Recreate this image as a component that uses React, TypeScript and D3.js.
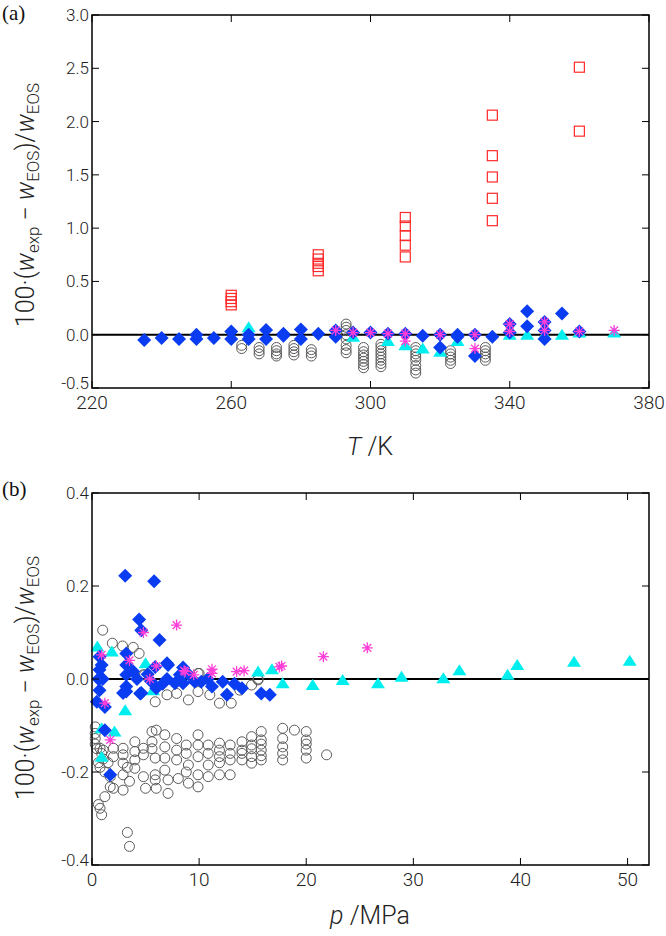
import React from "react";
import * as d3 from "d3";

// panel (a): deviation vs temperature, [T/K, 100*dw/w]
const aSquares: [number, number][] = [
  [260, 0.28], [260, 0.31], [260, 0.34], [260, 0.37],
  [285, 0.6], [285, 0.64], [285, 0.67], [285, 0.71], [285, 0.75],
  [310, 0.73], [310, 0.84], [310, 0.93], [310, 1.02], [310, 1.1],
  [335, 1.07], [335, 1.28], [335, 1.48], [335, 1.68], [335, 2.06],
  [360, 1.91], [360, 2.51],
];
const aCircles: [number, number][] = [
  [263, -0.1], [263, -0.13],
  [268, -0.12], [268, -0.15], [268, -0.18],
  [273, -0.12], [273, -0.15], [273, -0.18], [273, -0.2],
  [278, -0.1], [278, -0.13], [278, -0.16], [278, -0.19],
  [283, -0.14], [283, -0.17], [283, -0.2],
  [293, 0.1], [293, 0.07], [293, 0.04], [293, 0.0], [293, -0.04], [293, -0.1], [293, -0.14], [293, -0.17],
  [298, -0.12], [298, -0.16], [298, -0.19], [298, -0.22], [298, -0.25], [298, -0.28], [298, -0.31],
  [303, -0.09], [303, -0.12], [303, -0.15], [303, -0.18], [303, -0.21], [303, -0.24], [303, -0.27], [303, -0.3],
  [313, -0.12], [313, -0.15], [313, -0.18], [313, -0.21], [313, -0.24], [313, -0.29], [313, -0.33], [313, -0.36],
  [323, -0.15], [323, -0.18], [323, -0.21], [323, -0.24], [323, -0.27],
  [333, -0.12], [333, -0.15], [333, -0.18], [333, -0.21], [333, -0.24],
];
const aTriangles: [number, number][] = [
  [265, 0.07], [295, -0.02], [305, -0.06], [310, -0.1], [315, -0.13], [320, -0.16],
  [325, -0.06], [340, 0.0], [345, 0.0], [350, 0.0], [355, 0.0], [360, 0.02], [370, 0.02],
];
const aDiamonds: [number, number][] = [
  [235, -0.05], [240, -0.03], [245, -0.04], [250, 0.0], [250, -0.04], [255, -0.03],
  [260, 0.03], [260, -0.04], [265, -0.04], [265, 0.0], [270, 0.045], [270, -0.04],
  [275, 0.01], [275, -0.01], [280, 0.05], [280, -0.04], [285, 0.01], [290, 0.04], [290, -0.02],
  [295, 0.02], [300, 0.02], [305, 0.01], [310, 0.01], [315, -0.01], [320, 0.0], [320, -0.12],
  [325, 0.0], [325, -0.02], [330, 0.0], [330, -0.2], [335, -0.02], [340, 0.1], [340, 0.02],
  [345, 0.22], [345, 0.08], [350, 0.12], [350, 0.04], [350, -0.04], [355, 0.2], [360, 0.03],
];
const aStars: [number, number][] = [
  [290, 0.04], [295, 0.02], [300, 0.02], [305, 0.01], [310, 0.01], [310, -0.06], [320, 0.0],
  [330, 0.0], [330, -0.13], [340, 0.1], [340, 0.03], [350, 0.12], [350, 0.04], [360, 0.03], [370, 0.04],
];

// panel (b): deviation vs pressure, [p/MPa, 100*dw/w]
const bCircles: [number, number][] = [
  [4.8, 0.009], [5.9, -0.049], [7.0, -0.034], [7.9, -0.031], [9.0, -0.045], [9.9, -0.027], [11.0, -0.034],
  [11.9, -0.052], [13.0, -0.052], [13.8, -0.024], [14.9, -0.013], [15.5, -0.002], [9.9, 0.012],
  [1.0, 0.105], [1.9, 0.077], [2.85, 0.071], [3.85, 0.068], [4.4, 0.055], [4.9, 0.009], [10.0, 0.012], [15.5, 0.0],
  [0.3, -0.103], [0.3, -0.117], [0.3, -0.128], [0.3, -0.14], [0.45, -0.15], [0.6, -0.27], [0.6, -0.18],
  [0.75, -0.149], [0.75, -0.278], [0.75, -0.19], [0.9, -0.292], [0.9, -0.16], [1.05, -0.153], [1.05, -0.172],
  [1.2, -0.253], [1.2, -0.2], [1.5, -0.18], [1.7, -0.21], [1.7, -0.232],
  [2.0, -0.149], [2.0, -0.167], [2.0, -0.235],
  [2.9, -0.149], [2.9, -0.163], [2.9, -0.181], [2.9, -0.206], [2.9, -0.239],
  [3.3, -0.19], [3.3, -0.33], [3.5, -0.36], [3.5, -0.22],
  [4.0, -0.135], [4.0, -0.156], [4.0, -0.174], [4.0, -0.192],
  [4.8, -0.149], [4.8, -0.163], [4.8, -0.21], [5.0, -0.235],
  [5.6, -0.113], [5.6, -0.135], [5.6, -0.15], [5.9, -0.17], [5.9, -0.206], [5.9, -0.217], [6.0, -0.235], [6.0, -0.11],
  [6.8, -0.12], [6.8, -0.146], [6.8, -0.17], [6.8, -0.196], [7.1, -0.217], [7.1, -0.246],
  [7.9, -0.128], [7.9, -0.153], [7.9, -0.174], [8.05, -0.214],
  [8.8, -0.142], [8.8, -0.16], [8.8, -0.2], [9.0, -0.185], [9.0, -0.224],
  [9.9, -0.12], [9.9, -0.142], [9.9, -0.167], [9.9, -0.206], [9.9, -0.232],
  [10.85, -0.142], [10.85, -0.16], [10.85, -0.185], [10.85, -0.21],
  [11.9, -0.138], [11.9, -0.153], [11.9, -0.167], [11.9, -0.18], [11.9, -0.206],
  [12.9, -0.142], [12.9, -0.16], [12.9, -0.174], [12.9, -0.206],
  [14.0, -0.135], [14.0, -0.153], [14.0, -0.16], [14.0, -0.174],
  [14.9, -0.124], [14.9, -0.142], [14.9, -0.15], [14.9, -0.167], [14.9, -0.181],
  [15.8, -0.113], [15.8, -0.131], [15.8, -0.14], [15.8, -0.153], [15.8, -0.165], [15.8, -0.174],
  [17.8, -0.106], [17.8, -0.128], [17.8, -0.146], [17.8, -0.16], [17.8, -0.174],
  [18.9, -0.11], [20.0, -0.113], [20.0, -0.131], [20.0, -0.14], [20.0, -0.153], [20.0, -0.17], [21.9, -0.163],
];
const bTriangles: [number, number][] = [
  [0.5, 0.07], [1.85, 0.059], [5.0, 0.034], [15.5, 0.016], [16.8, 0.021], [5.7, -0.024], [3.1, -0.067],
  [17.8, -0.009], [20.6, -0.013], [23.4, -0.002], [26.7, -0.009], [28.9, 0.005], [32.8, 0.0015],
  [34.3, 0.019], [38.8, 0.009], [39.7, 0.03], [45.0, 0.037], [50.2, 0.039],
  [0.9, -0.106], [2.1, -0.113], [0.9, -0.167],
];
const bDiamonds: [number, number][] = [
  [3.1, 0.222], [5.8, 0.21], [4.4, 0.128], [4.6, 0.105], [6.3, 0.084], [7.0, 0.034], [8.5, 0.025],
  [0.7, 0.048], [0.7, 0.02], [0.6, 0.0], [0.7, -0.024], [0.45, -0.049], [1.2, -0.06], [0.9, 0.03], [1.0, 0.0],
  [3.2, 0.055], [3.2, 0.03], [3.2, 0.009], [3.2, -0.016], [3.2, -0.027], [3.85, 0.016], [4.5, -0.031],
  [4.2, 0.0], [2.9, -0.03], [5.9, 0.026], [7.1, 0.03], [7.0, 0.0], [7.75, -0.009], [8.2, 0.009], [8.5, -0.009],
  [9.6, -0.006], [10.2, -0.006], [11.2, -0.016], [12.2, -0.006], [12.6, -0.034], [13.3, -0.01],
  [15.8, -0.031], [16.6, -0.034], [6.6, -0.01], [6.0, -0.02], [4.6, -0.03], [5.2, 0.01], [5.5, -0.005],
  [9.0, 0.01], [10.8, 0.0], [14.0, -0.02], [1.2, -0.11], [1.7, -0.206],
];
const bStars: [number, number][] = [
  [17.7, 0.028], [21.6, 0.048], [25.7, 0.067], [7.9, 0.116], [4.8, 0.1], [0.9, 0.052], [3.5, 0.04],
  [6.0, 0.028], [8.6, 0.018], [11.2, 0.021], [13.5, 0.016], [14.2, 0.018], [17.5, 0.026], [5.4, 0.0],
  [8.7, 0.016], [9.5, 0.009], [11.2, 0.012], [1.2, -0.052], [1.7, -0.131],
];

const aXTicks = [220, 260, 300, 340, 380];
const aYTicks = [-0.5, 0, 0.5, 1, 1.5, 2, 2.5, 3];
const bXTicks = [0, 10, 20, 30, 40, 50];
const bYTicks = [-0.4, -0.2, 0, 0.2, 0.4];

const BLUE = "#0a3df2";
const CYAN = "#00eeee";
const MAGENTA = "#ff3fd8";
const GREY = "#5a5a5a";
const RED = "#ff2a2a";
const TICKFONT = "Roboto, 'Liberation Sans', sans-serif";

const diamond = (r: number) => `M0,${-r}L${r},0L0,${r}L${-r},0Z`;
const triangle = "M0,-6L7,5L-7,5Z";
const star = (r: number) => {
  const a = r * Math.SQRT1_2;
  return `M${-r},0H${r}M0,${-r}V${r}M${-a},${-a}L${a},${a}M${-a},${a}L${a},${-a}`;
};

type Pt = [number, number];

function YTitle({ x, y }: { x: number; y: number }) {
  return (
    <text transform={`translate(${x},${y}) rotate(-90)`} textAnchor="middle"
      fontFamily={TICKFONT} fontWeight={300} fontSize={25} fill="#222">
      100·(<tspan fontStyle="italic">w</tspan>
      <tspan fontSize={17} dy={5}>exp</tspan>
      <tspan dy={-5}> − </tspan>
      <tspan fontStyle="italic">w</tspan>
      <tspan fontSize={17} dy={5}>EOS</tspan>
      <tspan dy={-5}>)/</tspan>
      <tspan fontStyle="italic">w</tspan>
      <tspan fontSize={17} dy={5}>EOS</tspan>
    </text>
  );
}

function Panel({
  x, y, xTicks, yTicks, circles, squares, triangles, diamonds, stars,
}: {
  x: d3.ScaleLinear<number, number>;
  y: d3.ScaleLinear<number, number>;
  xTicks: number[]; yTicks: number[];
  circles: Pt[]; squares: Pt[]; triangles: Pt[]; diamonds: Pt[]; stars: Pt[];
}) {
  const [x0, x1] = x.range();
  const [y1, y0] = y.range();
  const tl = 7;
  const fmt = d3.format(".1f");
  return (
    <g>
      <line x1={x0} x2={x1} y1={y(0)} y2={y(0)} stroke="#000" strokeWidth={2} />
      {circles.map((d, i) => (
        <circle key={"c" + i} cx={x(d[0])} cy={y(d[1])} r={5} fill="none" stroke={GREY} strokeWidth={1} />
      ))}
      {squares.map((d, i) => (
        <rect key={"s" + i} x={x(d[0]) - 5} y={y(d[1]) - 5} width={10} height={10} fill="none" stroke={RED} strokeWidth={1.2} />
      ))}
      {triangles.map((d, i) => (
        <path key={"t" + i} d={triangle} transform={`translate(${x(d[0])},${y(d[1])})`} fill={CYAN} />
      ))}
      {diamonds.map((d, i) => (
        <path key={"d" + i} d={diamond(7)} transform={`translate(${x(d[0])},${y(d[1])})`} fill={BLUE} />
      ))}
      {stars.map((d, i) => (
        <g key={"a" + i} transform={`translate(${x(d[0])},${y(d[1])})`}>
          <path d={star(5.5)} stroke={MAGENTA} strokeWidth={1.3} fill="none" />
          <circle r={1.5} fill={MAGENTA} />
        </g>
      ))}
      <rect x={x0} y={y0} width={x1 - x0} height={y1 - y0} fill="none" stroke="#000" strokeWidth={1.5} />
      {xTicks.map((t) => (
        <g key={"xt" + t}>
          <line x1={x(t)} x2={x(t)} y1={y1} y2={y1 - tl} stroke="#000" />
          <line x1={x(t)} x2={x(t)} y1={y0} y2={y0 + tl} stroke="#000" />
          <text x={x(t)} y={y1 + 21} textAnchor="middle" fontFamily={TICKFONT} fontWeight={300} fontSize={19} fill="#222">{t}</text>
        </g>
      ))}
      {yTicks.map((t, i) => (
        <g key={"yt" + t}>
          <line x1={x0} x2={x0 + tl} y1={y(t)} y2={y(t)} stroke="#000" />
          <line x1={x1} x2={x1 - tl} y1={y(t)} y2={y(t)} stroke="#000" />
          <text x={x0 - 3} y={y(t) - (i === 0 ? 5 : 0)} dy="0.35em" textAnchor="end" fontFamily={TICKFONT} fontWeight={300} fontSize={17} fill="#222">{fmt(t).replace("−", "-")}</text>
        </g>
      ))}
    </g>
  );
}

export default function App() {
  const xa = d3.scaleLinear().domain([220, 380]).range([92, 649]);
  const ya = d3.scaleLinear().domain([-0.5, 3]).range([388, 15]);
  const xb = d3.scaleLinear().domain([0, 52]).range([92, 649]);
  const yb = d3.scaleLinear().domain([-0.4, 0.4]).range([865, 493]);
  return (
    <svg width={666} height={936} style={{ position: "absolute", left: 0, top: 0, background: "#fff" }}>
      <text x={2} y={20} fontFamily="'Liberation Serif', serif" fontSize={21} fill="#111">(a)</text>
      <text x={2} y={496} fontFamily="'Liberation Serif', serif" fontSize={21} fill="#111">(b)</text>
      <Panel x={xa} y={ya} xTicks={aXTicks} yTicks={aYTicks} circles={aCircles} squares={aSquares}
        triangles={aTriangles} diamonds={aDiamonds} stars={aStars} />
      <Panel x={xb} y={yb} xTicks={bXTicks} yTicks={bYTicks} circles={bCircles} squares={[]}
        triangles={bTriangles} diamonds={bDiamonds} stars={bStars} />
      <YTitle x={34} y={205} />
      <YTitle x={34} y={678} />
      <text x={370} y={455} textAnchor="middle" fontFamily={TICKFONT} fontWeight={300} fontSize={25} fill="#222">
        <tspan fontStyle="italic">T</tspan> /K
      </text>
      <text x={370} y={924} textAnchor="middle" fontFamily={TICKFONT} fontWeight={300} fontSize={25} fill="#222">
        <tspan fontStyle="italic">p</tspan> /MPa
      </text>
    </svg>
  );
}
